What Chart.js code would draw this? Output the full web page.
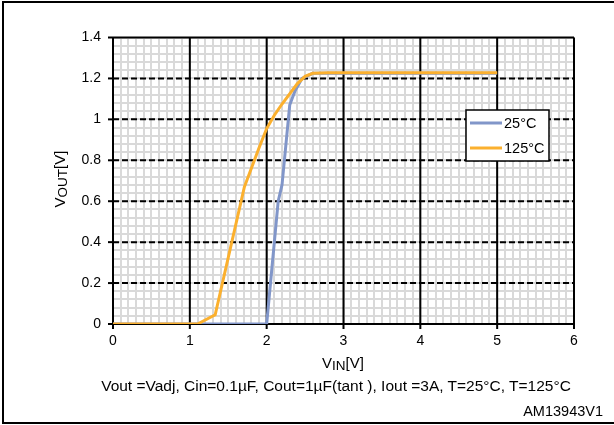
<!DOCTYPE html>
<html>
<head>
<meta charset="utf-8">
<script src="https://cdn.jsdelivr.net/npm/chart.js@4"></script>
<style>
  body { margin: 0; background: #fff; font-family: "Liberation Sans", Arial, sans-serif; }
  #wrap { position: relative; width: 614px; height: 425px; overflow: hidden; }
  #frame { position: absolute; left: 2px; top: 1px; width: 640px; height: 419px; border: 2px solid #000; }
  .txt { position: absolute; color: #000; white-space: nowrap; }
  #ytitle { left: 59px; top: 179px; font-size: 15px; transform: translate(-50%, -50%) rotate(-90deg); }
  #xtitle { left: 343px; top: 362px; font-size: 15px; transform: translate(-50%, -50%); }
  #footer { left: 336px; top: 386px; font-size: 15.5px; transform: translate(-50%, -50%); }
  #code { right: 11px; top: 411px; font-size: 14.5px; transform: translateY(-50%); }
  .sub { font-size: 13.5px; position: relative; top: 2px; }
</style>
</head>
<body>
<div id="wrap">
  <div id="frame"></div>
  <canvas id="chart"></canvas>
  <div class="txt" id="ytitle">V<span class="sub">OUT</span>[V]</div>
  <div class="txt" id="xtitle">V<span class="sub">IN</span>[V]</div>
  <div class="txt" id="footer">Vout =Vadj, Cin=0.1µF, Cout=1µF(tant ), Iout =3A, T=25°C, T=125°C</div>
  <div class="txt" id="code">AM13943V1</div>
</div>
<script>
// Data
const seriesLabels = ['25°C', '125°C'];
const vin25 = [0, 2.0, 2.15, 2.2, 2.3, 2.37, 2.46, 2.6, 5];
const vout25 = [0, 0, 0.6, 0.68, 1.07, 1.14, 1.2, 1.225, 1.225];
const vin125 = [0, 1.1, 1.33, 1.71, 1.9, 2.0, 2.1, 2.2, 2.4, 2.5, 2.6, 2.8, 5];
const vout125 = [0, 0, 0.045, 0.67, 0.86, 0.955, 1.02, 1.075, 1.175, 1.21, 1.225, 1.228, 1.228];
const xTicks = [0, 1, 2, 3, 4, 5, 6];
const yTicks = [0, 0.2, 0.4, 0.6, 0.8, 1, 1.2, 1.4];

const colors = ['#8196c9', '#fbb02e'];
const toPoints = (xs, ys) => xs.map((x, i) => ({ x: x, y: ys[i] }));

// major grid lines, tick marks and the in-plot legend
const majorGrid = {
    id: 'majorGrid',
    beforeDatasetsDraw(chart) {
        const { ctx, chartArea: a, scales: { x, y } } = chart;
        ctx.save();
        ctx.strokeStyle = '#000';
        ctx.lineWidth = 2;
        ctx.setLineDash([6, 3]);
        yTicks.forEach(v => {
            if (v === 0 || v === 1.4) return;
            const py = y.getPixelForValue(v);
            ctx.beginPath(); ctx.moveTo(a.left, py); ctx.lineTo(a.right, py); ctx.stroke();
        });
        ctx.setLineDash([]);
        xTicks.forEach(v => {
            const px = x.getPixelForValue(v);
            ctx.beginPath(); ctx.moveTo(px, a.top); ctx.lineTo(px, a.bottom + 5); ctx.stroke();
        });
        yTicks.forEach(v => {
            const py = y.getPixelForValue(v);
            ctx.beginPath(); ctx.moveTo(a.left - 5, py); ctx.lineTo(v === 0 || v === 1.4 ? a.right : a.left, py); ctx.stroke();
        });
        ctx.restore();
    },
    afterDraw(chart) {
        const { ctx } = chart;
        ctx.save();
        ctx.fillStyle = '#fff';
        ctx.fillRect(466, 110, 83, 51);
        ctx.strokeStyle = '#000';
        ctx.lineWidth = 1.5;
        ctx.strokeRect(466, 110, 83, 51);
        ctx.font = '14.5px "Liberation Sans", Arial, sans-serif';
        ctx.textBaseline = 'middle';
        seriesLabels.forEach((label, i) => {
            const cy = 123 + i * 25;
            ctx.strokeStyle = colors[i];
            ctx.lineWidth = 3;
            ctx.beginPath(); ctx.moveTo(470, cy); ctx.lineTo(502, cy); ctx.stroke();
            ctx.fillStyle = '#000';
            ctx.fillText(label, 504, cy + 1);
        });
        ctx.restore();
    }
};

const isMult = (v, step) => Math.abs(v / step - Math.round(v / step)) < 1e-6;

new Chart(document.getElementById('chart'), {
    type: 'scatter',
    data: {
        datasets: [
            {
                label: seriesLabels[0],
                data: toPoints(vin25, vout25),
                showLine: true,
                borderColor: colors[0],
                borderWidth: 3,
                pointRadius: 0,
                order: 1
            },
            {
                label: seriesLabels[1],
                data: toPoints(vin125, vout125),
                showLine: true,
                borderColor: colors[1],
                borderWidth: 3,
                pointRadius: 0,
                order: 0
            }
        ]
    },
    options: {
        responsive: true,
        maintainAspectRatio: false,
        animation: false,
        layout: { padding: { top: 37.5, right: 40, left: 0, bottom: 0 } },
        plugins: { legend: { display: false }, tooltip: { enabled: false } },
        scales: {
            x: {
                min: 0, max: 6,
                afterFit: s => { s.height = 101; },
                ticks: {
                    stepSize: 0.1, autoSkip: false, maxRotation: 0, padding: 9,
                    color: '#000', font: { size: 14, family: '"Liberation Sans", Arial, sans-serif' },
                    callback: v => isMult(v, 1) ? String(Math.round(v)) : ''
                },
                grid: { color: '#d9d9d9', lineWidth: 2, drawTicks: false },
                border: { display: false }
            },
            y: {
                min: 0, max: 1.4,
                afterFit: s => { s.width = 113; },
                ticks: {
                    stepSize: 0.04, autoSkip: false, padding: 12,
                    color: '#000', font: { size: 14, family: '"Liberation Sans", Arial, sans-serif' },
                    callback: v => isMult(v, 0.2) ? String(+v.toFixed(1)) : ''
                },
                grid: { color: '#d9d9d9', lineWidth: 2, drawTicks: false },
                border: { display: false }
            }
        }
    },
    plugins: [majorGrid]
});
</script>
</body>
</html>
